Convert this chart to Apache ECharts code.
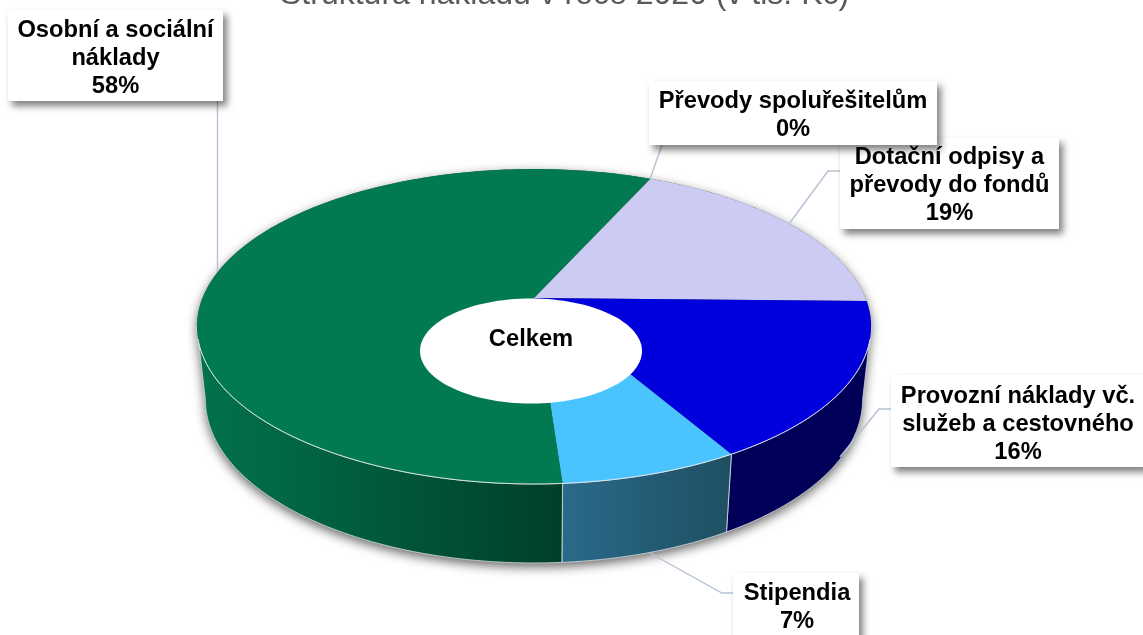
<!DOCTYPE html>
<html>
<head>
<meta charset="utf-8">
<style>html,body{margin:0;padding:0;background:#fff}#c{width:1143px;height:635px}</style>
<script src="https://cdn.jsdelivr.net/npm/echarts@6/dist/echarts.min.js"></script>
</head>
<body>
<div id="c"></div>
<script>
// ---- data (clockwise from the start angle) ----
const categories = ['Převody spoluřešitelům', 'Dotační odpisy a\npřevody do fondů', 'Provozní náklady vč.\nslužeb a cestovného', 'Stipendia', 'Osobní a sociální\nnáklady'];
const seriesValues = [0.03, 18.6, 16.3, 7.25, 57.82];
const chartTitle = 'Struktura nákladů v roce 2020 (v tis. Kč)';
const centerLabel = 'Celkem';

// ---- style and layout, kept apart from the data ----
const topColors = ['#cbcbf3', '#cbcbf3', '#0000dc', '#4ac4ff', '#027a51'];
const wallStops = [['#cbcbf3', '#cbcbf3'], ['#9a9ad0', '#9a9ad0'], ['#000058', '#000058'], ['#2a6a8a', '#1f4f62'], ['#02734c', '#003f28']];
const view = { cx: 534, cy: 298, rx: 331.5, ry: 152.3, persp: 0.181, startDeg: 24.1, wallScale: 0.975, depth: 72, depthGrow: 7 };
const hole = { cx: 531, cy: 351, rx: 111, ry: 52.5 };
const boxes = [
  { x: 649, y: 81, w: 288, h: 64, tx: 793, ty: 115, line: [[662, 145], [650, 179]] },
  { x: 840, y: 138, w: 219, h: 91, tx: 949.5, ty: 185.5, line: [[840, 171], [828, 171], [789, 224]] },
  { x: 891, y: 375, w: 254, h: 92, tx: 1018, ty: 424, line: [[891, 409], [879, 409], [840, 457]] },
  { x: 733, y: 573, w: 126, h: 66, tx: 797, ty: 607, line: [[733, 593], [722, 593], [650, 553]] },
  { x: 8, y: 10, w: 215, h: 91, tx: 115.5, ty: 58, line: [[217.5, 101], [217.5, 272]] }
];
const drawOrder = [4, 3, 2, 1, 0];
const labelFont = 'bold 23.7px "Liberation Sans", Arial, sans-serif';

// ---- projection of the disc ----
const total = seriesValues.reduce((a, b) => a + b, 0);
function spans() {
  let a = view.startDeg;
  return seriesValues.map(v => { const s = a; a += v / total * 360; return [s, a]; });
}
const sliceSpans = spans();
// angles at which the projected disc is widest: the wall's visible part lies between them
const tangentOffset = Math.asin(view.persp) * 180 / Math.PI;
const frontFrom = 90 + tangentOffset, frontTo = 270 - tangentOffset;
function project(deg) {
  const t = deg * Math.PI / 180, u = Math.sin(t), v = -Math.cos(t), k = 1 / (1 - view.persp * v);
  return [view.cx + view.rx * u * k, view.cy + view.ry * v * k];
}
function lower(p) {
  return [view.cx + view.wallScale * (p[0] - view.cx), p[1] + view.depth + view.depthGrow * (p[1] - view.cy) / 186];
}
function arc(a0, a1) {
  const n = Math.max(2, Math.ceil(Math.abs(a1 - a0))), pts = [];
  for (let i = 0; i <= n; i++) pts.push(project(a0 + (a1 - a0) * i / n));
  return pts;
}
const rows = categories.map((name, i) => [seriesValues[i], name]);
const base = { type: 'custom', coordinateSystem: 'none', silent: true, animation: false, clip: false };

const shadowSeries = Object.assign({}, base, {
  z: 1, data: [[1]],
  renderItem() {
    return { type: 'polygon', shape: { points: arc(frontFrom, frontTo).map(lower).concat(arc(frontTo, frontFrom + 360)) },
      style: { fill: '#555', shadowColor: 'rgba(0,0,0,0.6)', shadowBlur: 11, shadowOffsetX: 0, shadowOffsetY: 4 } };
  }
});
const wallSeries = Object.assign({}, base, {
  z: 2, data: rows,
  renderItem(p) {
    const i = p.dataIndex, s = sliceSpans[i];
    const a0 = Math.max(s[0], frontFrom), a1 = Math.min(s[1], frontTo);
    if (a1 <= a0) return null;
    const top = arc(a0, a1), bottom = top.map(lower).reverse();
    return { type: 'polygon', shape: { points: top.concat(bottom) },
      style: { fill: new echarts.graphic.LinearGradient(0, 0, 1, 0, [{ offset: 0, color: wallStops[i][0] }, { offset: 1, color: wallStops[i][1] }]),
        stroke: 'rgba(225,230,235,0.85)', lineWidth: 0.9 } };
  }
});
const topSeries = Object.assign({}, base, {
  z: 3, data: rows,
  renderItem(p) {
    const i = p.dataIndex, s = sliceSpans[i];
    return { type: 'polygon', shape: { points: [[view.cx, view.cy]].concat(arc(s[0], s[1])) }, style: { fill: topColors[i] } };
  }
});
const rimSeries = Object.assign({}, base, {
  z: 4, data: [[1]],
  renderItem() {
    return { type: 'polyline', shape: { points: arc(105, 255) }, style: { fill: null, stroke: 'rgba(232,236,240,0.9)', lineWidth: 1 } };
  }
});
const holeSeries = Object.assign({}, base, {
  z: 5, data: [[1]],
  renderItem() {
    return { type: 'group', children: [
      { type: 'ellipse', shape: { cx: hole.cx, cy: hole.cy, rx: hole.rx, ry: hole.ry }, style: { fill: '#fff' } },
      { type: 'text', style: { x: hole.cx, y: 339, text: centerLabel, fill: '#000', font: labelFont, align: 'center', verticalAlign: 'middle' } }
    ] };
  }
});
const leaderSeries = Object.assign({}, base, {
  z: 6, data: rows,
  renderItem(p) {
    return { type: 'polyline', shape: { points: boxes[p.dataIndex].line }, style: { fill: null, stroke: '#b4c2d3', lineWidth: 1.4 } };
  }
});
const labelSeries = Object.assign({}, base, {
  z: 7, data: drawOrder.map(i => rows[i]),
  renderItem(p) {
    const i = drawOrder[p.dataIndex], b = boxes[i];
    const text = categories[i] + '\n' + Math.round(seriesValues[i] / total * 100) + '%';
    return { type: 'group', children: [
      { type: 'rect', shape: { x: b.x, y: b.y, width: b.w, height: b.h },
        style: { fill: '#fff', shadowColor: 'rgba(0,0,0,0.5)', shadowBlur: 7, shadowOffsetX: 4, shadowOffsetY: 5 } },
      { type: 'text', style: { x: b.tx, y: b.ty, text, fill: '#000', font: labelFont, lineHeight: 28, align: 'center', verticalAlign: 'middle' } }
    ] };
  }
});

const chart = echarts.init(document.getElementById('c'), null, { renderer: 'canvas' });
chart.setOption({
  backgroundColor: '#fff',
  animation: false,
  title: { text: chartTitle, left: 280, top: -21, padding: 0, textStyle: { color: '#595959', fontSize: 32, fontWeight: 'normal', fontFamily: '"Liberation Sans", Arial, sans-serif' } },
  series: [shadowSeries, wallSeries, topSeries, rimSeries, holeSeries, leaderSeries, labelSeries]
});
</script>
</body>
</html>
